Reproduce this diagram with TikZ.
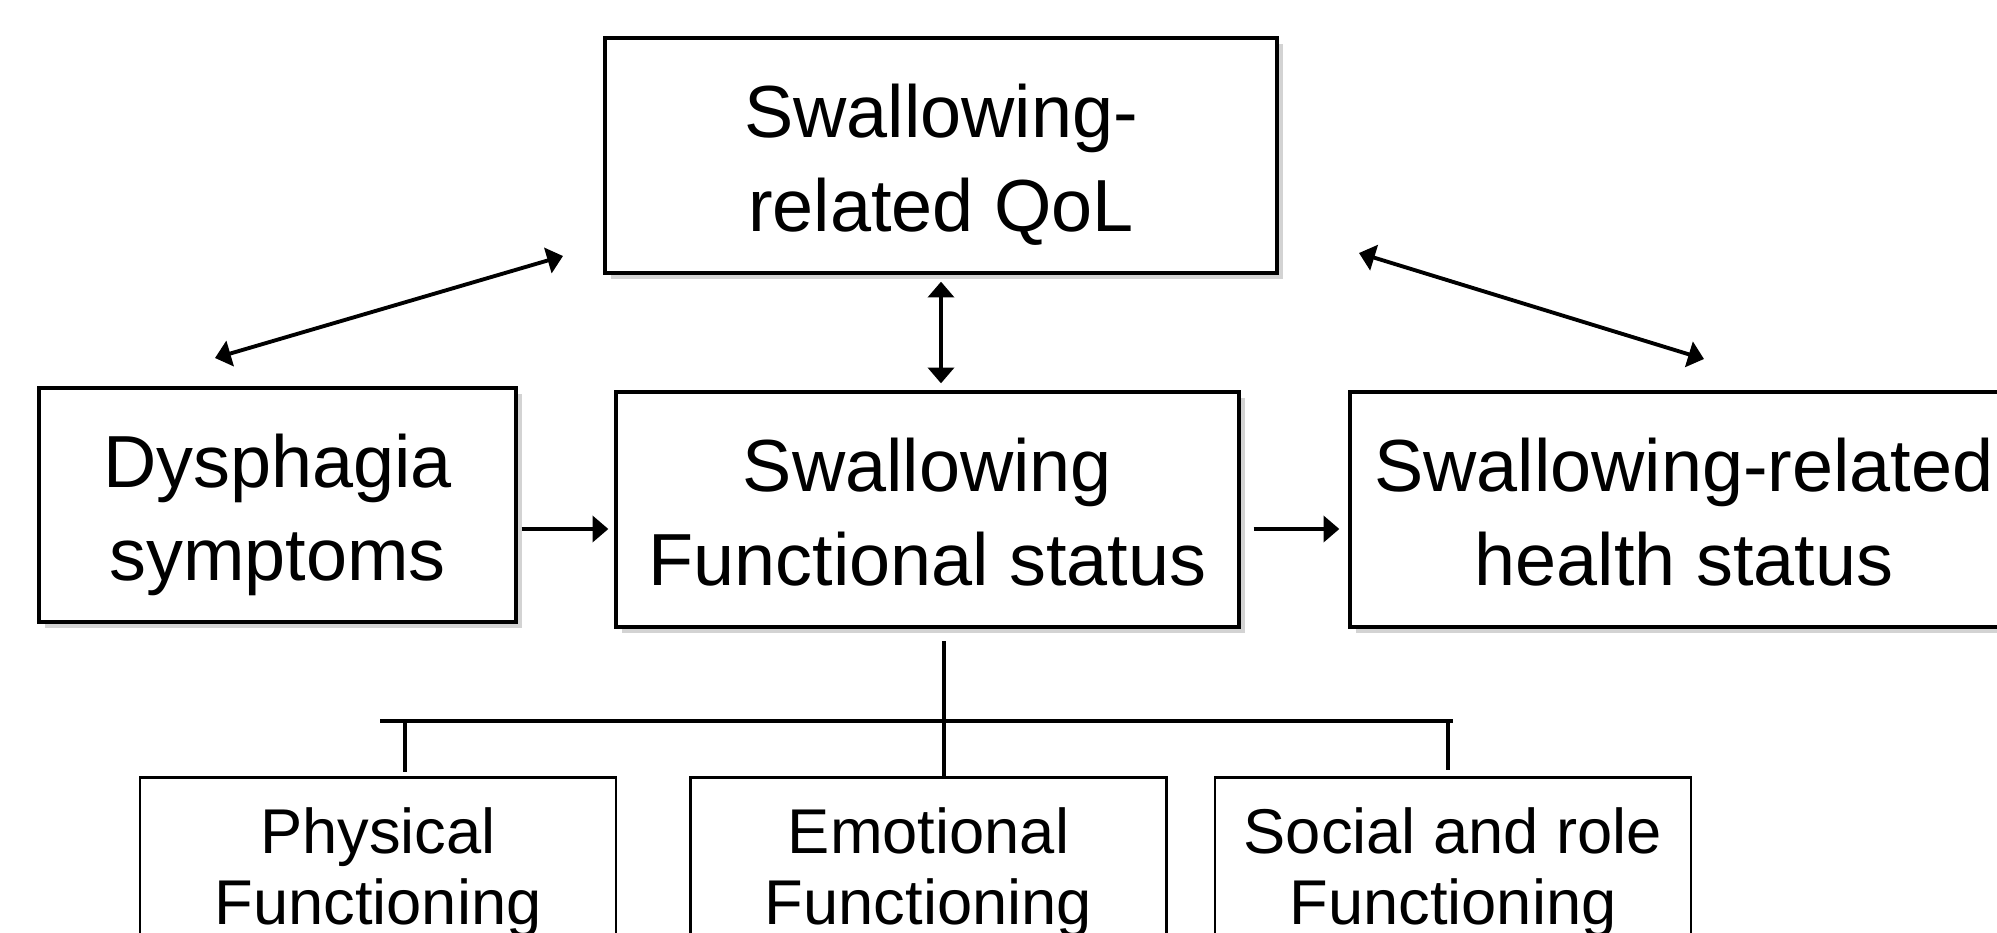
\documentclass[tikz,border=0pt]{standalone}
\usepackage{fontspec}
\setmainfont{Liberation Sans}
\usetikzlibrary{arrows.meta, shadows, calc}
\newcommand\bs{\rule[-4.5pt]{0pt}{25.5pt}}
\tikzset{
  bigbox/.style  = {draw, line width=0.95pt, fill=white, align=center,
                    font=\fontsize{21}{25.3}\selectfont, inner sep=2pt,
                    drop shadow={shadow xshift=1.8pt, shadow yshift=-1.8pt,
                                 opacity=0.35}},
  subbox/.style  = {draw, line width=0.6pt, fill=white, align=center,
                    font=\fontsize{18}{20.2}\selectfont, inner sep=2pt,
                    minimum width=4.76cm, minimum height=1.9cm},
  link/.style    = {-{Triangle[length=4.5pt, width=7.4pt]}, line width=1.1pt},
  twoway/.style  = {{Triangle[length=4.5pt, width=7.4pt]}-{Triangle[length=4.5pt, width=7.4pt]},
                    line width=1.1pt},
  branch/.style  = {line width=0.95pt},
  crossbar/.style = {line width=1.15pt},
}

\begin{document}
\begin{tikzpicture}[x=1cm,y=1cm]
  \useasboundingbox (0,0) rectangle (19.97,-9.32);
  \clip (0,0) rectangle (19.97,-9.32);
  % upper boxes
  \node[bigbox, minimum width=6.72cm, minimum height=2.35cm] (qol) at (9.41,-1.555) {\bs Swallowing-\\related QoL\bs};
  \node[bigbox, minimum width=4.77cm, minimum height=2.34cm] (dys) at (2.775,-5.05) {\bs Dysphagia\\symptoms\bs};
  \node[bigbox, minimum width=6.23cm, minimum height=2.35cm] (func) at (9.275,-5.095) {\bs Swallowing\\Functional status\bs};
  \node[bigbox, minimum width=6.68cm, minimum height=2.35cm] (health) at (16.84,-5.095) {\bs Swallowing-related\\health status\bs};
  % functioning domains
  \node[subbox] (phys) at (3.78,-8.725) {Physical\\Functioning};
  \node[subbox] (emo) at (9.285,-8.725) {Emotional\\Functioning};
  \node[subbox] (soc) at (14.53,-8.725) {Social and role\\Functioning};
  % arrows
  \coordinate (lane) at (0,-5.29);
  \draw[link, shorten <=0.04cm, shorten >=0.06cm] (dys.east |- lane) -- (func.west |- lane);
  \draw[link, shorten <=0.13cm, shorten >=0.09cm] (func.east |- lane) -- (health.west |- lane);
  \draw[twoway, shorten <=0.07cm, shorten >=0.07cm] (qol.south) -- (qol.south |- func.north);
  \coordinate (dysEnd) at (2.15,-3.58); \coordinate (qolLeft) at (5.63,-2.56);
  \coordinate (qolRight) at (13.59,-2.53); \coordinate (healthEnd) at (17.04,-3.59);
  \draw[twoway] (dysEnd) -- (qolLeft);
  \draw[twoway] (qolRight) -- (healthEnd);
  % tree
  \coordinate (stem) at (9.44,-6.41);
  \coordinate (barL) at (3.80,-7.21); \coordinate (barR) at (14.53,-7.21);
  \coordinate (physDrop) at (4.05,-7.21); \coordinate (socDrop) at (14.48,-7.21);
  \draw[branch] (stem) -- (emo.north -| stem);
  \draw[crossbar] (barL) -- (barR);
  \draw[branch] (physDrop) -- ($(phys.north -| physDrop)+(0,0.04)$);
  \draw[branch] (socDrop) -- ($(soc.north -| socDrop)+(0,0.06)$);
\end{tikzpicture}
\end{document}
